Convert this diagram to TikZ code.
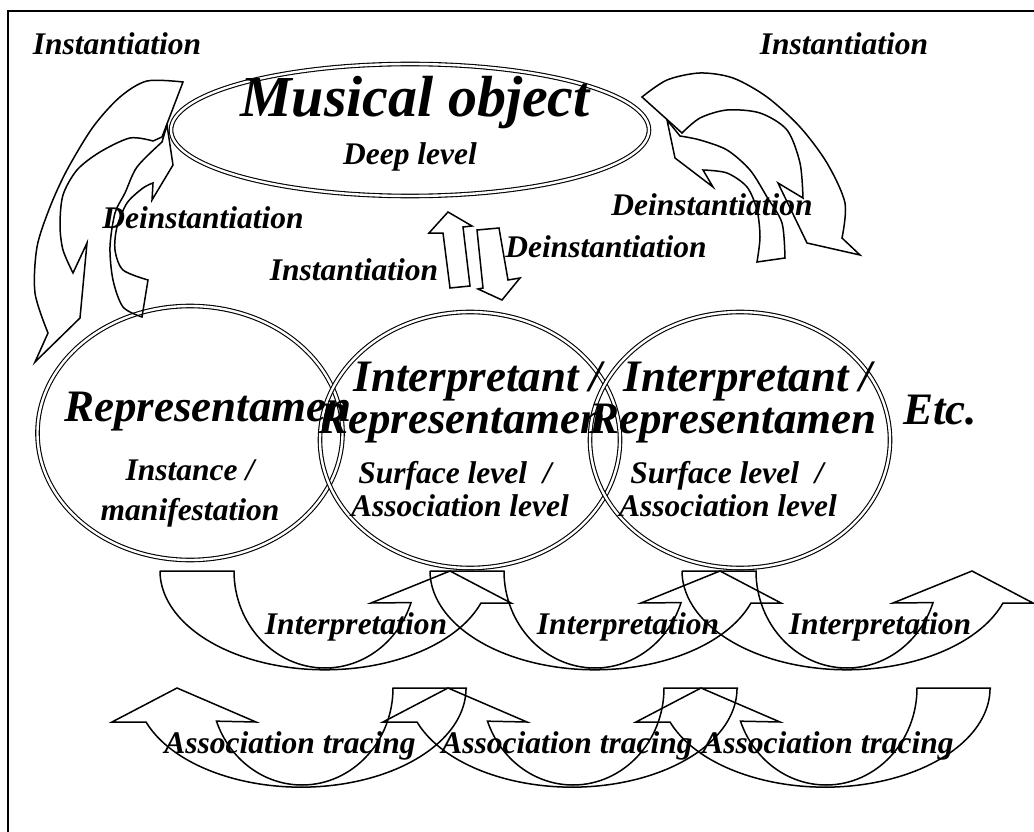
\documentclass[tikz,border=0pt]{standalone}
\usepackage{fontspec}
\setmainfont{Liberation Serif}
\usetikzlibrary{shapes.geometric}
\begin{document}
\begin{tikzpicture}[x=1pt,y=-1pt, line width=1.5pt, line join=miter,
  lbl/.style={font=\fontsize{31.5}{34}\selectfont\bfseries\itshape, anchor=base, inner sep=0},
  big/.style={font=\fontsize{45}{48}\selectfont\bfseries\itshape, anchor=base, inner sep=0},
  huge/.style={font=\fontsize{58}{62}\selectfont\bfseries\itshape, anchor=base, inner sep=0},
  dbl/.style={draw, double, double distance=2.4pt, line width=1.1pt, ellipse, inner sep=0}]
\useasboundingbox (0,0) rectangle (1034,832);
\clip (0,0) rectangle (1034,832);
\draw[line width=1.4pt] (8,11) rectangle (1060,860);

% ellipse and circles
\node[dbl, minimum width=478pt, minimum height=132pt] (obj) at (410,130) {};
\node[dbl, minimum width=305pt, minimum height=254pt] (rep) at (190,433) {};
\node[dbl, minimum width=300pt, minimum height=256pt] (int1) at (470,440) {};
\node[dbl, minimum width=300pt, minimum height=256pt] (int2) at (740,440) {};

% texts
\node[huge] (t1) at (415,117) {Musical object};
\node[lbl] (t2) at (410,165) {Deep level};
\node[lbl] (i1) at (117,55) {Instantiation};
\node[lbl] (i2) at (844,55) {Instantiation};
\node[lbl] (d1) at (203,228) {Deinstantiation};
\node[lbl] (d2) at (712,215) {Deinstantiation};
\node[lbl] (d3) at (606,257) {Deinstantiation};
\node[lbl] (i3) at (354,280) {Instantiation};
\node[big] (r1) at (208,421) {Representamen};
\node[lbl] (r2) at (190,480) {Instance /};
\node[lbl] (r3) at (190,520) {manifestation};
\node[big] (p1) at (478,391) {Interpretant /};
\node[big] (p2) at (462,433) {Representamen};
\node[lbl] (p3) at (455,483) {Surface level~ /};
\node[lbl] (p4) at (460,516) {Association level};
\node[big] (q1) at (748,391) {Interpretant /};
\node[big] (q2) at (733,433) {Representamen};
\node[lbl] (q3) at (727,483) {Surface level~ /};
\node[lbl] (q4) at (728,516) {Association level};
\node[big] (etc) at (940,424) {Etc.};
\node[lbl] (n1) at (356,634) {Interpretation};
\node[lbl] (n2) at (628,634) {Interpretation};
\node[lbl] (n3) at (880,634) {Interpretation};
\node[lbl] (a1) at (290,753) {Association tracing};
\node[lbl] (a2) at (567,753) {Association tracing};
\node[lbl] (a3) at (828,753) {Association tracing};

% top-left big arrow
\draw (183,82) -- (162,137) -- (153,141)
  -- plot[smooth] coordinates {(153,141) (130,138) (100,152) (77,170) (63,195) (60,225) (63,250) (73,273)}
  -- (87,243) -- (80,318) -- (35,362) -- (48,333)
  -- plot[smooth] coordinates {(48,333) (35,293) (37,247) (50,207) (67,170) (93,127) (120,97) (147,81) (183,82)} -- cycle;
% top-left small arrow
\draw (167,125) -- (173,165) -- (152,200) -- (153,183)
  -- plot[smooth] coordinates {(153,183) (143,188) (127,203) (117,227) (115,250) (123,270) (148,280)}
  -- (142,317)
  -- plot[smooth] coordinates {(142,317) (123,307) (113,280) (110,247) (115,213) (125,193) (137,167) (162,142)} -- cycle;
% top-right big arrow
\draw (642,97) -- (682,133)
  -- plot[smooth] coordinates {(682,133) (700,118) (727,110) (760,113) (787,130) (800,163) (803,198)}
  -- (778,183) -- (807,243) -- (860,255) -- (842,238)
  -- plot[smooth] coordinates {(842,238) (845,203) (827,163) (800,127) (767,97) (733,78) (700,73) (667,80) (642,97)} -- cycle;
% top-right small arrow
\draw (667,120) -- (675,158) -- (713,187) -- (703,170)
  -- plot[smooth] coordinates {(703,170) (727,173) (747,187) (757,210) (760,237) (757,262)}
  -- (785,258)
  -- plot[smooth] coordinates {(785,258) (782,223) (767,197) (750,170) (727,150) (700,140) (680,136)} -- cycle;
% middle arrows
\draw (448,212) -- (472,226) -- (463,227) -- (470,286) -- (450,288) -- (443,233) -- (429,233) -- cycle;
\draw (477,230) -- (499,228) -- (508,280) -- (520,278) -- (502,300) -- (478,289) -- (483,288) -- cycle;

% interpretation U-arrows
\foreach \c in {325,595,847}{
  \draw (\c-165,571) -- (\c-91,571)
    arc[start angle=180, end angle=19, x radius=91, y radius=97]
    -- (\c+46,603) -- (\c+125,571) -- (\c+186,603) -- (\c+156,603)
    arc[start angle=19, end angle=180, x radius=165, y radius=99] -- cycle;
}
% association U-arrows
\foreach \c in {302,573,826}{
  \draw (\c+165,688) -- (\c+91,688)
    arc[start angle=0, end angle=160, x radius=91, y radius=97]
    -- (\c-46,722) -- (\c-125,688) -- (\c-190,722) -- (\c-156,722)
    arc[start angle=160, end angle=0, x radius=165, y radius=99] -- cycle;
}
\end{tikzpicture}
\end{document}
